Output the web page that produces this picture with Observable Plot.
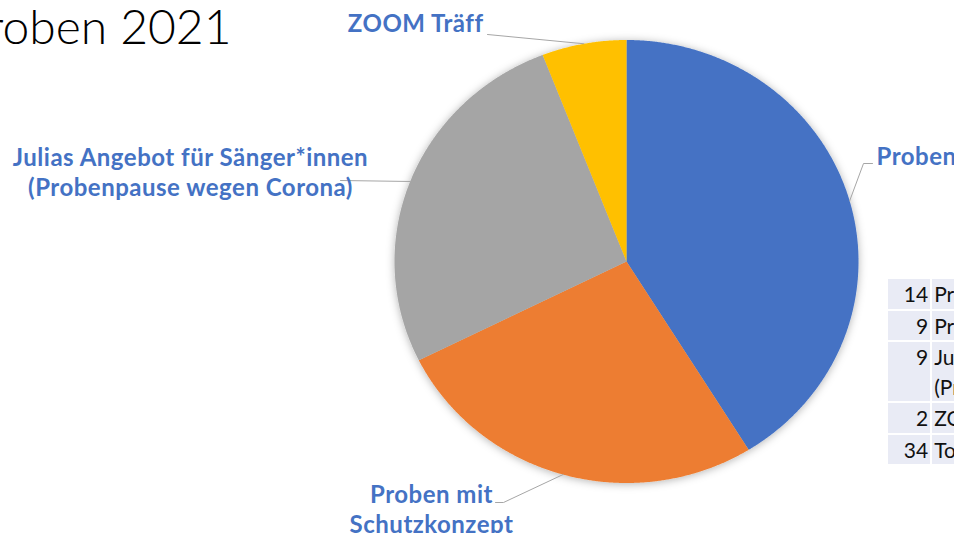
<!DOCTYPE html>
<html><head><meta charset="utf-8">
<script src="https://cdn.jsdelivr.net/npm/d3@7"></script>
<script src="https://cdn.jsdelivr.net/npm/@observablehq/plot@0.6"></script>
<style>
html,body{margin:0;padding:0;background:#fff;overflow:hidden;width:954px;height:533px;}
#wrap{position:relative;width:954px;height:533px;overflow:hidden;}
#wrap svg{position:absolute;left:0;top:0;}
#tbl{position:absolute;left:886px;top:277px;width:600px;table-layout:fixed;border-collapse:separate;border-spacing:2px;font-family:Lato,"Liberation Sans",sans-serif;font-size:21px;color:#111;}
#tbl td{background:#E9EBF5;line-height:29.5px;padding:0 2px;vertical-align:top;overflow:hidden;}
#tbl td.n{text-align:right;}
#tbl td.t{white-space:pre;}
.lbl text{letter-spacing:0.5px;}
</style></head>
<body><div id="wrap"></div>
<script>
const title = "Proben 2021";
const categories = ["Proben", "Proben mit Schutzkonzept", "Julias Angebot für Sänger*innen (Probenpause wegen Corona)", "ZOOM Träff"];
const values = [14, 9, 9, 2];
const colors = ["#4472C4", "#ED7D31", "#A5A5A5", "#FFC000"];
const labelTexts = ["Proben", "Proben mit\nSchutzkonzept", "Julias Angebot für Sänger*innen\n(Probenpause wegen Corona)", "ZOOM Träff"];
const tableCounts = [14, 9, 9, 2, 34];
const tableLabels = ["Proben", "Proben mit Schutzkonzept", "Julias Angebot für Sänger*innen\n(Probenpause wegen Corona)", "ZOOM Träff", "Total"];

// layout (pixels)
const X = d3.scaleLinear([-1, 1], [394, 858]);
const Y = d3.scaleLinear([-1, 1], [482.5, 39.5]);
const labelLayout = [
  {px: 876, py: 155, anchor: "start", elbow: [[863, 163], [872, 163]]},
  {px: 431, py: 508, anchor: "middle", elbow: [[503, 502], [495, 502]]},
  {px: 190, py: 171, anchor: "middle", elbow: [[340, 180]]},
  {px: 483, py: 22, anchor: "end", elbow: [[487, 34]]}
];

const arcs = d3.pie().sort(null).value(d => d)(values);
const slicePts = [];
const leaderPts = [];
const labels = [];
arcs.forEach((p, i) => {
  const cat = categories[i];
  slicePts.push({cat, x: 0, y: 0});
  const n = Math.max(2, Math.ceil((p.endAngle - p.startAngle) / 0.005));
  for (let k = 0; k <= n; k++) {
    const a = p.startAngle + (p.endAngle - p.startAngle) * k / n;
    slicePts.push({cat, x: Math.sin(a), y: Math.cos(a)});
  }
  slicePts.push({cat, x: 0, y: 0});
  const mid = (p.startAngle + p.endAngle) / 2;
  leaderPts.push({cat, x: Math.sin(mid), y: Math.cos(mid)});
  labelLayout[i].elbow.forEach(([ex, ey]) => leaderPts.push({cat, x: X.invert(ex), y: Y.invert(ey)}));
  labels.push({text: labelTexts[i], x: X.invert(labelLayout[i].px), y: Y.invert(labelLayout[i].py), anchor: labelLayout[i].anchor});
});

const labelMark = (anchor) => Plot.text(labels.filter(d => d.anchor === anchor), {
  x: "x", y: "y", text: "text", textAnchor: anchor, lineAnchor: "middle",
  fill: "#4472C4", fontWeight: "bold", fontSize: 24, lineHeight: 30 / 24,
  fontFamily: "Lato, 'Liberation Sans', sans-serif", className: "lbl"
});

const svg = Plot.plot({
  width: 954, height: 533, margin: 0,
  x: {domain: [-1, 1], range: [X.range()[0], X.range()[1]], axis: null},
  y: {domain: [-1, 1], range: [Y.range()[0], Y.range()[1]], axis: null},
  color: {type: "ordinal", domain: categories, range: colors},
  style: {background: "white", fontFamily: "Lato, sans-serif"},
  marks: [
    Plot.line(slicePts, {x: "x", y: "y", z: "cat", fill: "cat", stroke: "none", curve: "linear"}),
    Plot.line(leaderPts, {x: "x", y: "y", z: "cat", stroke: "#A6A6A6", strokeWidth: 1, curve: "linear"}),
    labelMark("start"), labelMark("middle"), labelMark("end"),
    Plot.text([title], {x: X.invert(231), y: Y.invert(28), text: d => d, textAnchor: "end", lineAnchor: "middle",
      fontSize: 48, fontWeight: 300, fill: "#000", fontFamily: "Lato, 'Liberation Sans', sans-serif"})
  ]
});

const defs = d3.select(svg).insert("defs", ":first-child");
const f = defs.append("filter").attr("id", "pieShadow").attr("x", "-10%").attr("y", "-10%").attr("width", "120%").attr("height", "120%");
f.append("feDropShadow").attr("dx", 0).attr("dy", 1).attr("stdDeviation", 4).attr("flood-color", "#000").attr("flood-opacity", 0.3);
d3.select(svg).select("g[aria-label=line]").attr("filter", "url(#pieShadow)");
d3.select(svg).selectAll("g[aria-label=text] text").filter(function(){ return this.closest("g.lbl") || this.parentNode.classList.contains("lbl"); }).style("letter-spacing", "0.5px");

const wrap = document.getElementById("wrap");
wrap.appendChild(svg);

const tbl = document.createElement("table");
tbl.id = "tbl";
const cg = document.createElement("colgroup");
[42, 550].forEach(w => { const c = document.createElement("col"); c.style.width = w + "px"; cg.appendChild(c); });
tbl.appendChild(cg);
tableCounts.forEach((c, i) => {
  const tr = document.createElement("tr");
  const td1 = document.createElement("td"); td1.className = "n"; td1.textContent = c;
  const td2 = document.createElement("td"); td2.className = "t"; td2.textContent = tableLabels[i];
  tr.appendChild(td1); tr.appendChild(td2); tbl.appendChild(tr);
});
wrap.appendChild(tbl);
</script>
</body></html>
